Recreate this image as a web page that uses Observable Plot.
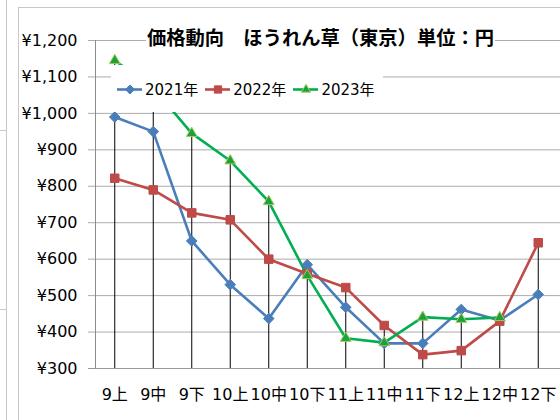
<!DOCTYPE html>
<html><head><meta charset="utf-8">
<script src="https://cdn.jsdelivr.net/npm/d3@7"></script>
<script src="https://cdn.jsdelivr.net/npm/@observablehq/plot@0.6"></script>
<style>
body{margin:0;background:#fff;}
#wrap{position:relative;width:560px;height:420px;overflow:hidden;font-family:"DejaVu Sans","Noto Sans CJK JP",sans-serif;background:#fff;}
#wrap svg.plot{position:absolute;left:0;top:0;}
#strip{position:absolute;left:-2px;top:-2px;width:8px;height:440px;border-right:1px solid #c8c8c8;
  background:repeating-linear-gradient(to bottom, transparent 0, transparent 132px, #c8c8c8 132px, #c8c8c8 133px, transparent 133px, transparent 179px);}
#panel{position:absolute;left:18px;top:7px;width:600px;height:440px;border-left:1px solid #c8c8c8;border-top:1px solid #c8c8c8;pointer-events:none;}
#title{position:absolute;left:146px;top:23px;width:349px;height:28px;line-height:28px;background:#fff;text-align:center;
  font-family:"Noto Sans CJK JP",sans-serif;font-weight:bold;font-size:19.3px;color:#000;white-space:nowrap;}
#legend{position:absolute;left:111px;top:65px;width:272px;height:47px;background:#fff;display:flex;flex-wrap:nowrap;align-items:center;padding-left:6px;box-sizing:border-box;white-space:nowrap;}
.item{display:flex;flex-wrap:nowrap;align-items:center;margin-right:7px;flex-shrink:0;}
.item svg{flex-shrink:0;}
.item span{margin-left:3px;font-size:15px;font-family:"DejaVu Sans","Noto Sans CJK JP",sans-serif;color:#000;white-space:nowrap;}
</style></head><body>
<div id="wrap"></div>
<script>
const categories = ["9上","9中","9下","10上","10中","10下","11上","11中","11下","12上","12中","12下"];
const seriesNames = ["2021年","2022年","2023年"];
const v2021 = [990, 950, 650, 530, 437, 585, 468, 369, 369, 462, 432, 503];
const v2022 = [822, 790, 727, 708, 600, 560, 522, 418, 338, 349, 430, 645];
const v2023 = [1145, 1070, 945, 870, 758, 555, 383, 371, 441, 435, 440, null];
const yTicks = [300, 400, 500, 600, 700, 800, 900, 1000, 1100, 1200];
const titleText = "価格動向　ほうれん草（東京）単位：円";

const lineColors = ["#4a7ebb", "#be4b48", "#00b050"];
const markerFill = ["#4a7ebb", "#be4b48", "#1aa33c"];
const markerStroke = ["#4a7ebb", "#be4b48", "#a9c85c"];
const symbols = ["diamond2", "square", "triangle"];
const markerR = [4.8, 4.8, 4.0];

const allValues = [v2021, v2022, v2023];
const rows = [];
allValues.forEach((vals, s) => vals.forEach((v, i) => {
  if (v != null) rows.push({series: seriesNames[s], s, cat: categories[i], value: v});
}));
const drops = categories.map((c, i) => ({cat: c, max: d3.max(allValues, a => a[i])}));

const yen = d => "¥" + d3.format(",")(d);

const marks = [
  Plot.ruleY(yTicks, {stroke: "#ababab", strokeWidth: 1, insetLeft: -7, insetRight: -3}),
  Plot.ruleX(drops, {x: "cat", y1: 300, y2: "max", stroke: "#000", strokeWidth: 1}),
  Plot.axisY({ticks: yTicks, tickFormat: yen, tickSize: 0, tickPadding: 18, fontSize: 16, fill: "#000", label: null}),
  Plot.axisX({tickSize: 0, tickPadding: 20, fontSize: 16, fill: "#000", label: null}),
  Plot.ruleY([300], {stroke: "#999", insetLeft: -7, insetRight: -3}),
  Plot.frame({anchor: "left", stroke: "#8c8c8c"})
];
seriesNames.forEach((name, s) => {
  const d = rows.filter(r => r.s === s);
  marks.push(Plot.line(d, {x: "cat", y: "value", stroke: lineColors[s], strokeWidth: 2.6}));
});
seriesNames.forEach((name, s) => {
  const d = rows.filter(r => r.s === s);
  marks.push(Plot.dot(d, {x: "cat", y: "value", symbol: () => symbols[s], r: markerR[s], fill: markerFill[s], stroke: markerStroke[s], strokeWidth: 1}));
});

const chart = Plot.plot({
  width: 560, height: 420,
  marginLeft: 95, marginRight: 3, marginTop: 40, marginBottom: 52,
  style: {background: "transparent", fontFamily: "'DejaVu Sans','Noto Sans CJK JP',sans-serif", fontSize: "16px", color: "#000"},
  x: {type: "band", domain: categories, padding: 0, round: false, axis: null},
  y: {domain: [300, 1200], axis: null},
  symbol: {type: "identity"},
  marks
});

const wrap = document.getElementById("wrap");
wrap.appendChild(chart);

const strip = document.createElement("div"); strip.id = "strip"; wrap.appendChild(strip);
const panel = document.createElement("div"); panel.id = "panel"; wrap.appendChild(panel);
const title = document.createElement("div"); title.id = "title"; title.textContent = titleText; wrap.appendChild(title);

const legend = document.createElement("div"); legend.id = "legend";
seriesNames.forEach((name, s) => {
  const item = document.createElement("div"); item.className = "item";
  const sw = Plot.plot({
    width: 25, height: 12, margin: 0,
    x: {domain: [0, 1], axis: null}, y: {domain: [0, 1], axis: null},
    style: {background: "transparent"},
    symbol: {type: "identity"},
    marks: [
      Plot.ruleY([0.5], {stroke: lineColors[s], strokeWidth: 2.6}),
      Plot.dot([0.5], {x: d => d, y: 0.5, symbol: () => symbols[s], r: markerR[s] * 0.85, fill: markerFill[s], stroke: markerStroke[s], strokeWidth: 1})
    ]
  });
  sw.style.position = "static";
  item.appendChild(sw);
  const t = document.createElement("span"); t.textContent = name; item.appendChild(t);
  legend.appendChild(item);
});
wrap.appendChild(legend);
</script>
</body></html>
